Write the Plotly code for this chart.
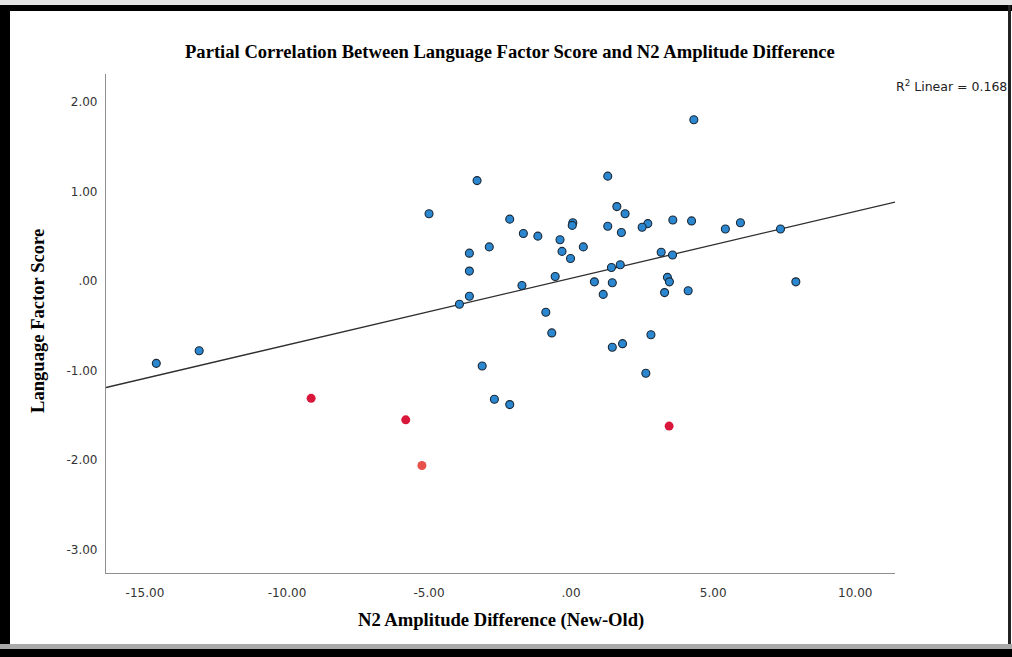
import plotly.graph_objects as go

# ---------------- data ----------------
blue_x = [4.32, 1.29, -3.31, -5.00, 1.61, 1.90, -2.16, 3.58, 4.24, 5.96,
          5.43, 7.37, 0.06, 0.04, 1.29, 2.70, 2.50, 1.77, -1.68, -1.17,
          -0.39, -3.58, -2.88, 0.43, -0.32, -0.02, 3.17, 3.57, -3.58, 1.73,
          1.42, -0.56, 3.39, 3.46, -1.73, 0.82, 1.45, 7.91, -3.58, 1.13,
          3.29, 4.12, -3.93, -0.89, -0.68, 1.45, 1.81, 2.81, -3.13, 2.63,
          -2.70, -2.16, -14.60, -13.09]
blue_y = [1.80, 1.17, 1.12, 0.75, 0.83, 0.75, 0.69, 0.68, 0.67, 0.65,
          0.58, 0.58, 0.65, 0.62, 0.61, 0.64, 0.60, 0.54, 0.53, 0.50,
          0.46, 0.31, 0.38, 0.38, 0.33, 0.25, 0.32, 0.29, 0.11, 0.18,
          0.15, 0.05, 0.04, -0.01, -0.05, -0.01, -0.02, -0.01, -0.17, -0.15,
          -0.13, -0.11, -0.26, -0.35, -0.58, -0.74, -0.70, -0.60, -0.95, -1.03,
          -1.32, -1.38, -0.92, -0.78]

red_x = [-9.15, -5.82, 3.45]
red_y = [-1.31, -1.55, -1.62]

salmon_x = [-5.25]
salmon_y = [-2.06]

fit_intercept = 0.03
fit_slope = 0.0745
r2_value = 0.168

x_range = [-16.37, 11.40]
y_range = [-3.26, 2.31]
x_tick_vals = [-15, -10, -5, 0, 5, 10]
x_tick_text = ["-15.00", "-10.00", "-5.00", ".00", "5.00", "10.00"]
y_tick_vals = [2, 1, 0, -1, -2, -3]
y_tick_text = ["2.00", "1.00", ".00", "-1.00", "-2.00", "-3.00"]

title_text = "Partial Correlation Between Language Factor Score and N2 Amplitude Difference"
x_title = "N2 Amplitude Difference (New-Old)"
y_title = "Language Factor Score"

# ---------------- geometry helpers ----------------
W, H = 1012, 657
L, R, T, B = 106, 895, 74, 573


def px_x(px):
    return (px - L) / (R - L)


def px_y(py):
    return (B - py) / (B - T)


fig = go.Figure()

# regression line
fit_x = [x_range[0], x_range[1]]
fit_y = [fit_intercept + fit_slope * v for v in fit_x]
fig.add_trace(go.Scatter(x=fit_x, y=fit_y, mode="lines",
                         line=dict(color="#2e2e2e", width=1.3),
                         hoverinfo="skip", showlegend=False))

fig.add_trace(go.Scatter(x=blue_x, y=blue_y, mode="markers",
                         marker=dict(size=8, color="#2b87cf",
                                     line=dict(color="#1b2836", width=1.1)),
                         showlegend=False))
fig.add_trace(go.Scatter(x=red_x, y=red_y, mode="markers",
                         marker=dict(size=9, color="#d8173a",
                                     line=dict(width=0)),
                         showlegend=False))
fig.add_trace(go.Scatter(x=salmon_x, y=salmon_y, mode="markers",
                         marker=dict(size=9, color="#e8524a",
                                     line=dict(width=0)),
                         showlegend=False))

tick_font = dict(family="DejaVu Sans", size=12, color="#333333")
serif_bold = dict(family="Liberation Serif", size=18.6, color="#000000")

fig.update_xaxes(range=x_range, tickvals=x_tick_vals, ticktext=x_tick_text,
                 showgrid=False, zeroline=False, showline=True,
                 linecolor="#8f8f8f", linewidth=1.2, ticks="",
                 tickfont=tick_font, ticklabelstandoff=8, fixedrange=True)
fig.update_yaxes(range=y_range, tickvals=y_tick_vals, ticktext=y_tick_text,
                 showgrid=False, zeroline=False, showline=True,
                 linecolor="#8f8f8f", linewidth=1.2, ticks="",
                 tickfont=tick_font, ticklabelstandoff=5, fixedrange=True)

shapes = [
    # light strip at very top
    dict(type="rect", xref="paper", yref="paper",
         x0=px_x(0), x1=px_x(W), y0=px_y(0), y1=px_y(5),
         fillcolor="#e4e4e4", line=dict(width=0)),
    # top black band
    dict(type="rect", xref="paper", yref="paper",
         x0=px_x(0), x1=px_x(W), y0=px_y(5), y1=px_y(11),
         fillcolor="#000000", line=dict(width=0)),
    # left black band
    dict(type="rect", xref="paper", yref="paper",
         x0=px_x(0), x1=px_x(10), y0=px_y(5), y1=px_y(H),
         fillcolor="#000000", line=dict(width=0)),
    # right thin border
    dict(type="rect", xref="paper", yref="paper",
         x0=px_x(1008), x1=px_x(1011), y0=px_y(5), y1=px_y(H),
         fillcolor="#222222", line=dict(width=0)),
    # bottom gray band
    dict(type="rect", xref="paper", yref="paper",
         x0=px_x(0), x1=px_x(W), y0=px_y(644), y1=px_y(649),
         fillcolor="#a9a9a9", line=dict(width=0)),
    # bottom black band
    dict(type="rect", xref="paper", yref="paper",
         x0=px_x(0), x1=px_x(W), y0=px_y(649), y1=px_y(H),
         fillcolor="#000000", line=dict(width=0)),
]

annotations = [
    dict(text="<b>" + title_text + "</b>", xref="paper", yref="paper",
         x=px_x(510), y=px_y(52), xanchor="center", yanchor="middle",
         showarrow=False, font=serif_bold),
    dict(text="<b>" + x_title + "</b>", xref="paper", yref="paper",
         x=px_x(501), y=px_y(620), xanchor="center", yanchor="middle",
         showarrow=False, font=serif_bold),
    dict(text="<b>" + y_title + "</b>", xref="paper", yref="paper",
         x=px_x(37), y=px_y(321), xanchor="center", yanchor="middle",
         textangle=-90, showarrow=False, font=serif_bold),
    dict(text="R<sup>2</sup> Linear = %.3f" % r2_value, xref="paper", yref="paper",
         x=px_x(1009), y=px_y(86), xanchor="right", yanchor="middle",
         showarrow=False, font=dict(family="DejaVu Sans", size=12.5, color="#222222")),
]

fig.update_layout(width=W, height=H, autosize=False,
                  margin=dict(l=L, r=W - R, t=T, b=H - B, pad=0),
                  paper_bgcolor="#ffffff", plot_bgcolor="#ffffff",
                  shapes=shapes, annotations=annotations,
                  showlegend=False)

fig.write_html("out.html", config={"displayModeBar": False})
